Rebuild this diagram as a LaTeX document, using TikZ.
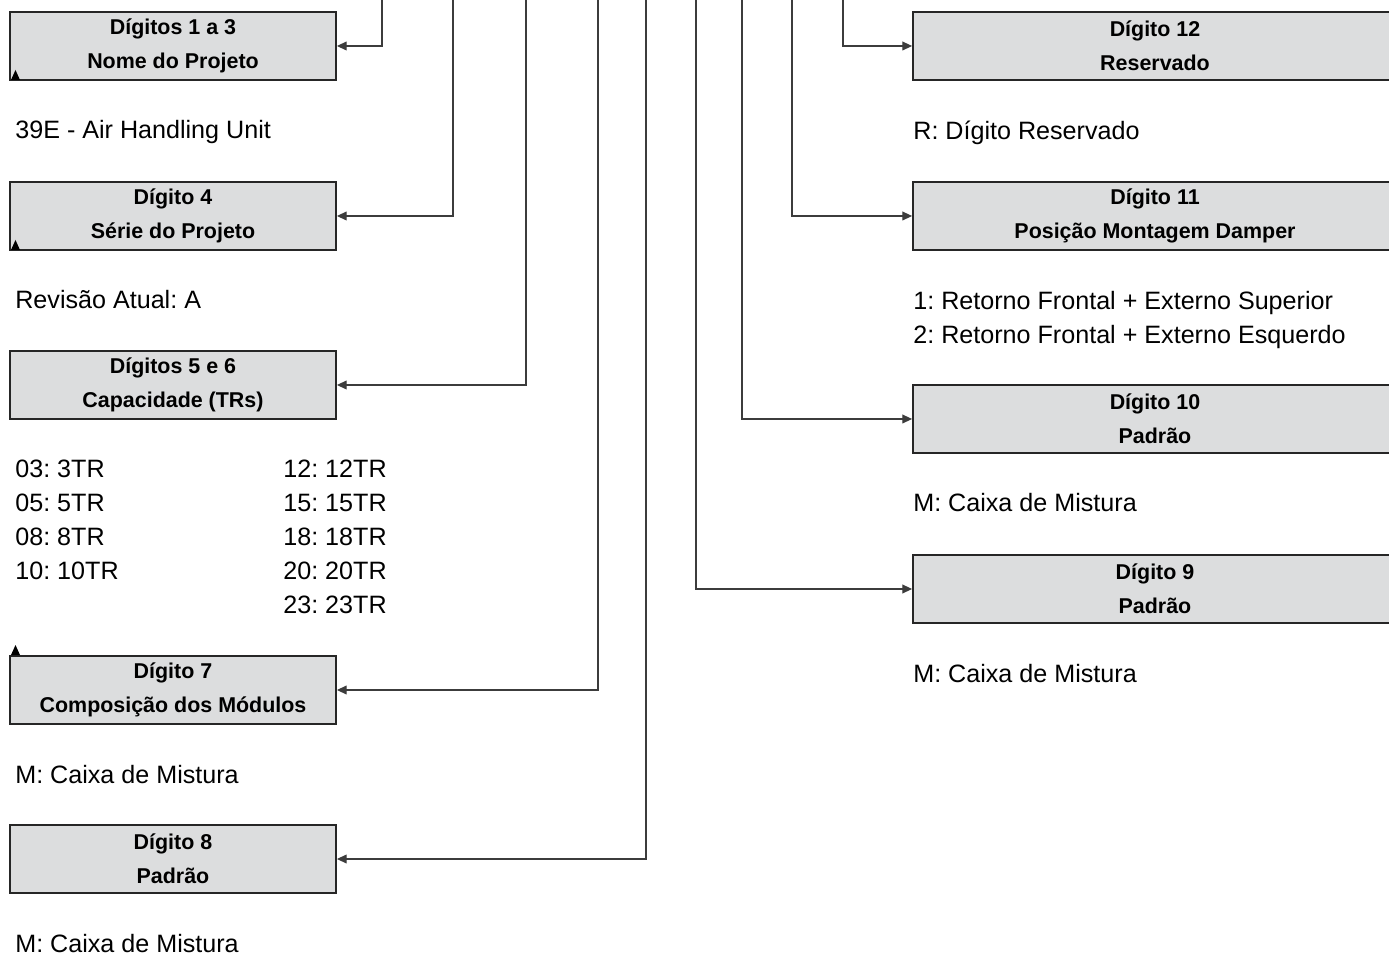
\documentclass[tikz,border=0pt]{standalone}
\usepackage{fontspec}
\setmainfont{Liberation Sans}
\usetikzlibrary{arrows.meta}
\definecolor{boxgray}{RGB}{220,221,222}
\definecolor{linegray}{RGB}{60,60,60}
\frenchspacing
\begin{document}
\begin{tikzpicture}[x=0.02cm,y=-0.02cm,>={Triangle[length=5.5pt,width=5pt]},
  digbox/.style={draw=black!85,line width=1.1pt,fill=boxgray,minimum height=1.36cm,
    inner sep=0pt,align=center,font=\bfseries\fontsize{12.2}{19.3}\selectfont},
  leftbox/.style={digbox,minimum width=6.52cm},
  rightbox/.style={digbox,minimum width=9.68cm},
  info/.style={anchor=base west,inner sep=0pt,font=\fontsize{14.3}{17}\selectfont},
  conn/.style={draw=linegray,line width=0.6pt,->},
  tipmark/.style={fill=black}]
\useasboundingbox (0,0) rectangle (1389,955);

% left column
\node[leftbox] (d13) at (173,46) {Dígitos 1 a 3\\Nome do Projeto};
\node[leftbox] (d4)  at (173,216) {Dígito 4\\Série do Projeto};
\node[leftbox] (d56) at (173,385) {Dígitos 5 e 6\\Capacidade (TRs)};
\node[leftbox] (d7)  at (173,690) {Dígito 7\\Composição dos Módulos};
\node[leftbox] (d8)  at (173,859) {Dígito 8\\Padrão};

\node[info] (t13) at (15,139) {39E - Air Handling Unit};
\node[info] (t4)  at (15,309) {Revisão Atual: A};
\node[info] (c1) at (15,478) {03: 3TR};
\node[info] (c2) at (15,512) {05: 5TR};
\node[info] (c3) at (15,546) {08: 8TR};
\node[info] (c4) at (15,580) {10: 10TR};
\node[info] (c5) at (283,478) {12: 12TR};
\node[info] (c6) at (283,512) {15: 15TR};
\node[info] (c7) at (283,546) {18: 18TR};
\node[info] (c8) at (283,580) {20: 20TR};
\node[info] (c9) at (283,614) {23: 23TR};
\node[info] (t7) at (15,783) {M: Caixa de Mistura};
\node[info] (t8) at (15,952) {M: Caixa de Mistura};

% right column
\node[rightbox] (d12) at (1155,46) {Dígito 12\\Reservado};
\node[rightbox] (d11) at (1155,216) {Dígito 11\\Posição Montagem Damper};
\node[rightbox] (d10) at (1155,419) {Dígito 10\\Padrão};
\node[rightbox] (d9)  at (1155,589) {Dígito 9\\Padrão};

\node[info] (t12) at (913,140) {R: Dígito Reservado};
\node[info] (t11a) at (913,310) {1: Retorno Frontal + Externo Superior};
\node[info] (t11b) at (913,344) {2: Retorno Frontal + Externo Esquerdo};
\node[info] (t10) at (913,512) {M: Caixa de Mistura};
\node[info] (t9)  at (913,682) {M: Caixa de Mistura};

% connectors
\foreach \name/\xx in {a/382,b/453,c/526,d/598,e/646,f/696,g/742,h/792,i/843}
  \coordinate (top\name) at (\xx,0);
\draw[conn] (topa) |- (d13.east);
\draw[conn] (topb) |- (d4.east);
\draw[conn] (topc) |- (d56.east);
\draw[conn] (topd) |- (d7.east);
\draw[conn] (tope) |- (d8.east);
\draw[conn] (topf) |- (d9.west);
\draw[conn] (topg) |- (d10.west);
\draw[conn] (toph) |- (d11.west);
\draw[conn] (topi) |- (d12.west);

% small marks
\fill[tipmark] (11,80) -- (15.5,70) -- (20,80) -- cycle;
\fill[tipmark] (11,250) -- (15.5,240) -- (20,250) -- cycle;
\fill[tipmark] (11,655) -- (15.5,645) -- (20,655) -- cycle;
\end{tikzpicture}
\end{document}
